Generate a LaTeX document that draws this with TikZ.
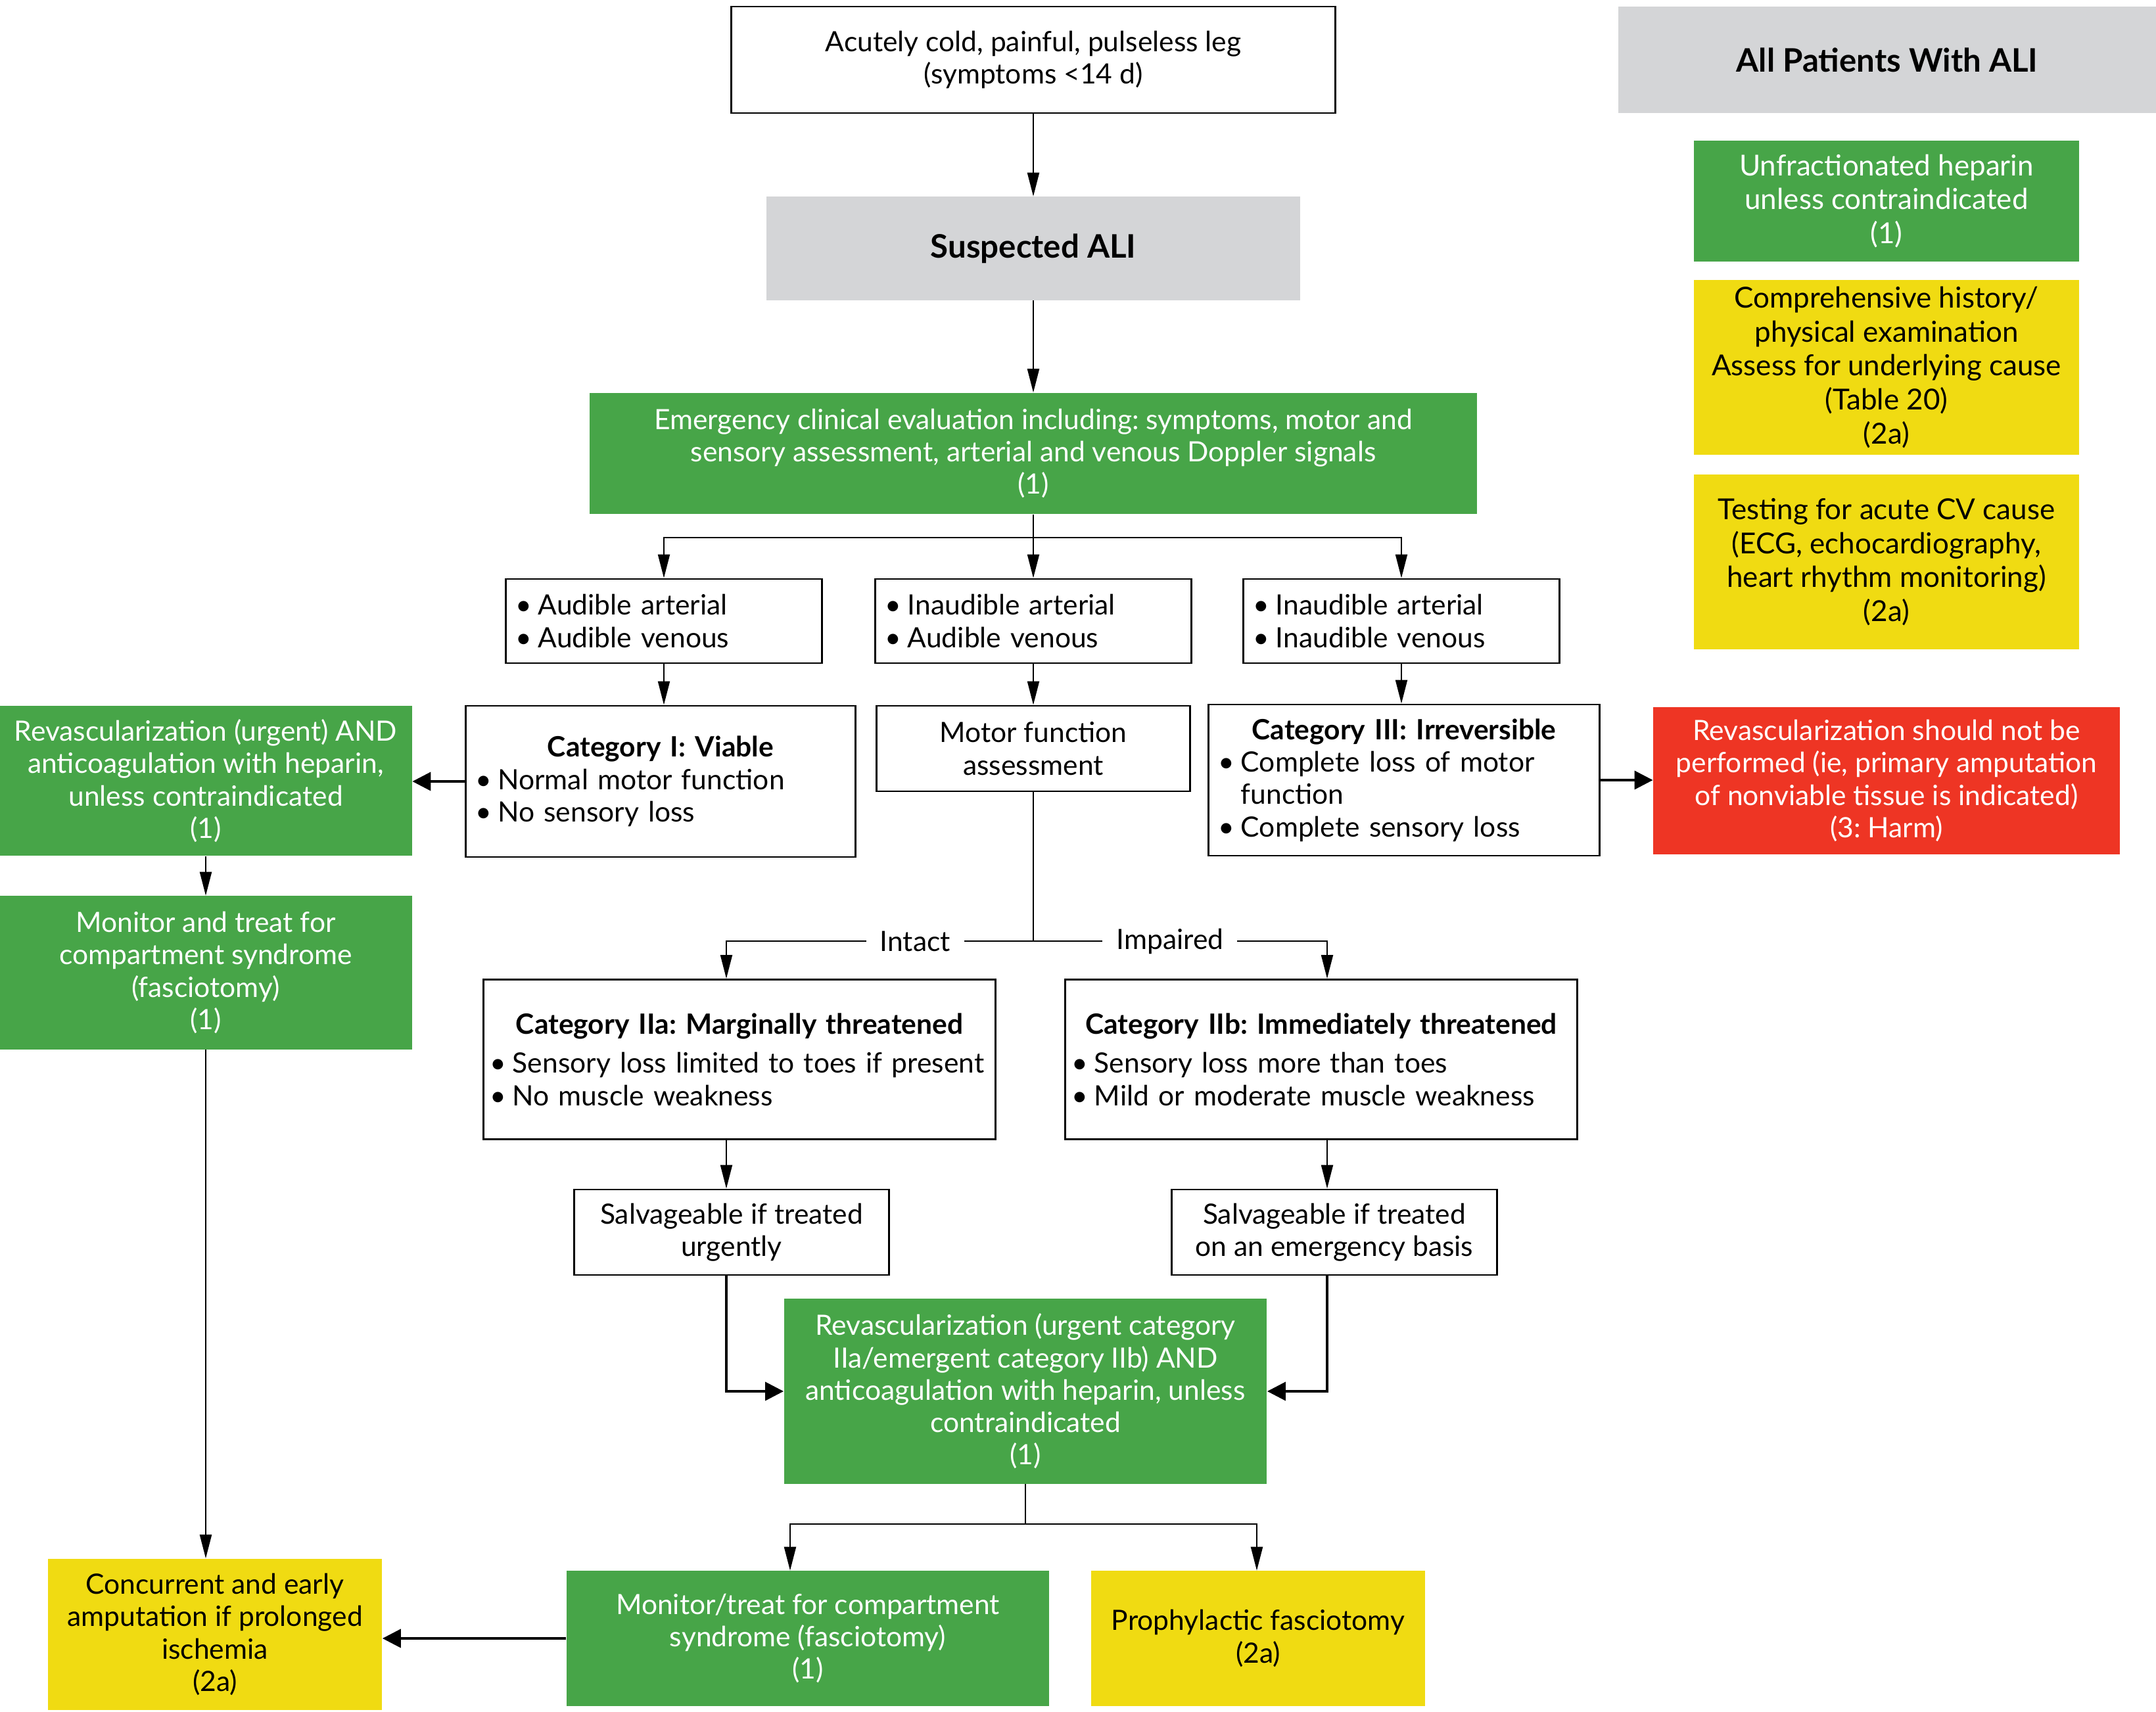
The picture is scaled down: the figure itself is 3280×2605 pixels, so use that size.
\documentclass[tikz,border=0pt]{standalone}
\usepackage{fontspec}
\setmainfont{Lato}
\usetikzlibrary{arrows.meta, positioning}
\usepackage{xcolor}
\definecolor{aligreen}{HTML}{47A548}
\definecolor{aliyellow}{HTML}{F0DB12}
\definecolor{alired}{HTML}{EE3524}
\definecolor{aligrey}{HTML}{D4D5D7}
\def\bul{\textbullet\hspace{0.22em}}
\def\title#1{\makebox[\hsize]{\bfseries #1}}
\frenchspacing

\begin{document}
\begin{tikzpicture}[x=0.01cm, y=-0.01cm, font=\fontsize{12.1}{14}\selectfont]
    \tikzstyle{box}=[draw=black, line width=0.8pt, inner sep=0pt, align=center]
    \tikzstyle{list box}=[box, align=left, inner xsep=0.15cm]
    \tikzstyle{green box}=[fill=aligreen, text=white, inner sep=0pt, align=center]
    \tikzstyle{yellow box}=[fill=aliyellow, inner sep=0pt, align=center]
    \tikzstyle{red box}=[fill=alired, text=white, inner sep=0pt, align=center]
    \tikzstyle{grey box}=[fill=aligrey, inner sep=0pt, align=center, font=\fontsize{14}{16}\selectfont\bfseries]
    \tikzstyle{side}=[font=\fontsize{12.5}{14.7}\selectfont]
    \tikzstyle{arr}=[-{Triangle[length=3.6mm,width=1.8mm]}, line width=0.6pt]
    \tikzstyle{harr}=[-{Triangle[length=2.8mm,width=2.8mm]}, line width=1.1pt]
    \tikzstyle{branch}=[fill=white, inner xsep=6pt, inner ysep=1pt]

    \useasboundingbox (0,0) rectangle (3280,2605);

    % Draw the top of the chart
    \node[box, minimum width=9.19cm, minimum height=1.62cm] (T) at (1572,91)
        {Acutely cold, painful, pulseless leg\\(symptoms <14 d)};
    \node[grey box, minimum width=8.11cm, minimum height=1.57cm] (S) at (1572,378) {Suspected ALI};
    \node[green box, minimum width=13.49cm, minimum height=1.84cm] (E) at (1572,690)
        {Emergency clinical evaluation including: symptoms, motor and\\
         sensory assessment, arterial and venous Doppler signals\\(1)};

    % Draw the Doppler findings
    \foreach \i/\x/\art/\ven in {1/1010/Audible/Audible, 2/1572/Inaudible/Audible, 3/2132/Inaudible/Inaudible}
        \node[list box, text width=4.5cm, minimum height=1.28cm] (A-\i) at (\x,945)
            {\bul\art{} arterial\\\bul\ven{} venous};

    % Draw the categories
    \node[list box, text width=5.63cm, minimum height=2.3cm] (C1) at (1005,1189)
        {\title{Category I: Viable}\\\bul Normal motor function\\\bul No sensory loss};
    \node[box, minimum width=4.76cm, minimum height=1.3cm] (M) at (1572,1139) {Motor function\\assessment};
    \node[list box, text width=5.64cm, minimum height=2.3cm] (C3) at (2136,1187)
        {\title{Category III: Irreversible}\\\bul Complete loss of motor\\
         \phantom{\bul}function\\\bul Complete sensory loss};
    \node[list box, inner xsep=0.1cm, text width=7.58cm, minimum height=2.43cm] (C2a) at (1125,1612)
        {\title{Category IIa: Marginally threatened}\\[3pt]
         \bul Sensory loss limited to toes if present\\\bul No muscle weakness};
    \node[list box, inner xsep=0.1cm, text width=7.58cm, minimum height=2.43cm] (C2b) at (2010,1612)
        {\title{Category IIb: Immediately threatened}\\[3pt]
         \bul Sensory loss more than toes\\\bul Mild or moderate muscle weakness};
    \node[box, minimum width=4.79cm, minimum height=1.3cm] (S1) at (1113,1875) {Salvageable if treated\\urgently};
    \node[box, minimum width=4.95cm, minimum height=1.3cm] (S2) at (2030,1875) {Salvageable if treated\\on an emergency basis};

    % Draw the treatment nodes
    \node[green box, minimum width=6.27cm, minimum height=2.28cm] (LG) at (313,1188)
        {Revascularization (urgent) AND\\anticoagulation with heparin,\\unless contraindicated\\(1)};
    \node[green box, minimum width=6.27cm, minimum height=2.33cm] (MON) at (313,1480)
        {Monitor and treat for\\compartment syndrome\\(fasciotomy)\\(1)};
    \node[red box, minimum width=7.09cm, minimum height=2.24cm] (R) at (2870,1188)
        {Revascularization should not be\\performed (ie, primary amputation\\of nonviable tissue is indicated)\\(3: Harm)};
    \node[green box, minimum width=7.34cm, minimum height=2.81cm] (RV) at (1560,2117)
        {Revascularization (urgent category\\IIa/emergent category IIb) AND\\anticoagulation with heparin, unless\\contraindicated\\(1)};
    \node[green box, minimum width=7.34cm, minimum height=2.05cm] (MT) at (1229,2493)
        {Monitor/treat for compartment\\syndrome (fasciotomy)\\(1)};
    \node[yellow box, minimum width=5.07cm, minimum height=2.05cm] (PF) at (1914,2493)
        {Prophylactic fasciotomy\\(2a)};
    \node[yellow box, minimum width=5.08cm, minimum height=2.3cm] (CC) at (327,2487)
        {Concurrent and early\\amputation if prolonged\\ischemia\\(2a)};

    % Draw the side column
    \node[grey box, minimum width=8.18cm, minimum height=1.62cm] (AP) at (2871,91) {All Patients With ALI};
    \node[green box, side, minimum width=5.85cm, minimum height=1.84cm] (U) at (2870,306)
        {Unfractionated heparin\\unless contraindicated\\(1)};
    \node[yellow box, side, minimum width=5.85cm, minimum height=2.66cm] (CH) at (2870,559)
        {Comprehensive history/\\physical examination\\Assess for underlying cause\\(Table 20)\\(2a)};
    \node[yellow box, side, minimum width=5.85cm, minimum height=2.65cm] (TE) at (2870,855)
        {Testing for acute CV cause\\(ECG, echocardiography,\\heart rhythm monitoring)\\(2a)};

    % Connectors
    \coordinate (split) at (1572,818);
    \coordinate (msplit) at (1572,1432);
    \coordinate (la) at (1105,1432);
    \coordinate (lb) at (2019,1432);
    \coordinate (bsplit) at (1560,2319);
    \coordinate (lc) at (1202,2319);
    \coordinate (ld) at (1912,2319);

    \draw[arr] (T) -- (S);
    \draw[arr] (S) -- (E);
    \draw[arr] (E.south) -- (A-2.north);
    \draw[arr] (split) -| (A-1.north);
    \draw[arr] (split) -| (A-3.north);
    \foreach \i/\dest in {1/C1, 2/M, 3/C3}
        \draw[arr] (A-\i.south) -- (A-\i.south |- \dest.north);

    \draw[harr] (C1.west) -- (C1.west -| LG.east);
    \draw[harr] (C3.east) -- (C3.east -| R.west);
    \draw[arr] (LG) -- (MON);
    \draw[arr] (MON.south) -- (MON.south |- CC.north);

    \draw[line width=0.6pt] (M.south) -- (msplit);
    \draw[arr] (msplit) -- node[branch, pos=0.385] {Intact} (la) -- (la |- C2a.north);
    \draw[arr] (msplit) -- node[branch, pos=0.465] {Impaired} (lb) -- (lb |- C2b.north);
    \draw[arr] (C2a.south -| la) -- (S1.north -| la);
    \draw[arr] (C2b.south -| lb) -- (S2.north -| lb);
    \draw[harr] (S1.south -| la) |- (RV.west);
    \draw[harr] (S2.south -| lb) |- (RV.east);

    \draw[line width=0.6pt] (RV.south) -- (bsplit);
    \draw[arr] (bsplit) -| (lc |- MT.north);
    \draw[arr] (bsplit) -| (ld |- PF.north);
    \draw[harr] (MT.west) -- (MT.west -| CC.east);
\end{tikzpicture}
\end{document}
